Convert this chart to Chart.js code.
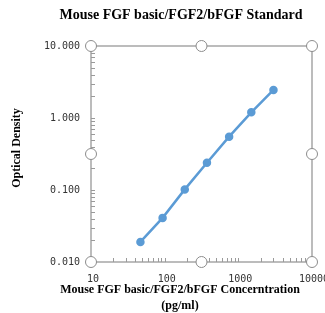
<!DOCTYPE html>
<html>
<head>
  <title>Mouse FGF basic/FGF2/bFGF Standard</title>
  <script src="https://cdn.jsdelivr.net/npm/chart.js"></script>
  <style>
    body { margin: 0; background: #fff; }
    #wrap { width: 325px; height: 313px; position: relative; }
  </style>
</head>
<body>
  <div id="wrap"><canvas id="curve"></canvas></div>

  <script>
    // standard curve values
    const concentration = [46.875, 93.75, 187.5, 375, 750, 1500, 3000];
    const opticalDensity = [0.019, 0.041, 0.102, 0.239, 0.55, 1.2, 2.45];

    const xTicks = [10, 100, 1000, 10000];
    const xTickLabels = ['10', '100', '1000', '10000'];
    const yTicks = [0.01, 0.1, 1, 10];
    const yTickLabels = ['0.010', '0.100', '1.000', '10.000'];

    const chartTitle = 'Mouse FGF basic/FGF2/bFGF Standard';
    const xTitle = ['Mouse FGF basic/FGF2/bFGF Concerntration', '(pg/ml)'];
    const yTitle = 'Optical Density';

    const lineColor = '#5b9bd5';
    const frameColor = '#a6a6a6';

    // frame, inward minor ticks, labels and titles (Excel-like look)
    const decorations = {
      id: 'decorations',
      beforeDatasetsDraw(chart) {
        const { ctx, chartArea: a, scales: { x, y } } = chart;
        ctx.save();
        ctx.strokeStyle = frameColor;
        ctx.lineWidth = 1.5;
        ctx.strokeRect(a.left, a.top, a.right - a.left, a.bottom - a.top);

        ctx.lineWidth = 1;
        ctx.strokeStyle = '#9a9a9a';
        ctx.beginPath();
        for (let i = 0; i < yTicks.length - 1; i++) {
          for (let m = 1; m < 10; m++) {
            const py = Math.round(y.getPixelForValue(yTicks[i] * m)) + 0.5;
            ctx.moveTo(a.left, py);
            ctx.lineTo(a.left + 4, py);
          }
        }
        for (let i = 0; i < xTicks.length - 1; i++) {
          for (let m = 1; m < 10; m++) {
            const px = Math.round(x.getPixelForValue(xTicks[i] * m)) + 0.5;
            ctx.moveTo(px, a.bottom);
            ctx.lineTo(px, a.bottom - 4);
          }
        }
        ctx.stroke();
        ctx.restore();
      },
      afterDraw(chart) {
        const { ctx, chartArea: a, scales: { x, y } } = chart;
        ctx.save();

        // selection handles round the plot area
        const hx = [a.left, (a.left + a.right) / 2, a.right];
        const hy = [a.top, (a.top + a.bottom) / 2, a.bottom];
        ctx.fillStyle = '#fff';
        ctx.strokeStyle = '#8c8c8c';
        ctx.lineWidth = 1;
        hx.forEach((px, i) => {
          hy.forEach((py, j) => {
            if (i === 1 && j === 1) return;
            ctx.beginPath();
            ctx.arc(px, py, 5.5, 0, Math.PI * 2);
            ctx.fill();
            ctx.stroke();
          });
        });

        // tick labels
        ctx.fillStyle = '#333';
        ctx.font = '10px "DejaVu Sans Mono"';
        ctx.textAlign = 'right';
        ctx.textBaseline = 'middle';
        yTicks.forEach((v, i) => {
          ctx.fillText(yTickLabels[i], a.left - 11, y.getPixelForValue(v) + 0.5);
        });
        ctx.textAlign = 'center';
        xTicks.forEach((v, i) => {
          ctx.fillText(xTickLabels[i], x.getPixelForValue(v) + 2, a.bottom + 17);
        });

        // titles
        ctx.fillStyle = '#000';
        ctx.font = 'bold 14px "Liberation Serif"';
        ctx.fillText(chartTitle, 181, 15);
        ctx.font = 'bold 12px "Liberation Serif"';
        ctx.fillText(xTitle[0], 180, a.bottom + 28);
        ctx.fillText(xTitle[1], 180, a.bottom + 44);
        ctx.translate(17, 148);
        ctx.rotate(-Math.PI / 2);
        ctx.font = 'bold 12px "Liberation Serif"';
        ctx.fillText(yTitle, 0, 0);
        ctx.restore();
      }
    };

    const points = concentration.map((c, i) => ({ x: c, y: opticalDensity[i] }));

    new Chart(document.getElementById('curve'), {
      type: 'scatter',
      data: {
        datasets: [{
          label: 'Standard',
          data: points,
          showLine: true,
          borderColor: lineColor,
          backgroundColor: lineColor,
          borderWidth: 2.5,
          pointRadius: 3,
          pointHoverRadius: 3
        }]
      },
      options: {
        responsive: true,
        maintainAspectRatio: false,
        animation: false,
        layout: { padding: { left: 91, right: 13, top: 46, bottom: 51 } },
        plugins: {
          legend: { display: false },
          tooltip: { enabled: false }
        },
        scales: {
          x: { type: 'logarithmic', min: 10, max: 10000, display: false },
          y: { type: 'logarithmic', min: 0.01, max: 10, display: false }
        }
      },
      plugins: [decorations]
    });
  </script>
</body>
</html>
